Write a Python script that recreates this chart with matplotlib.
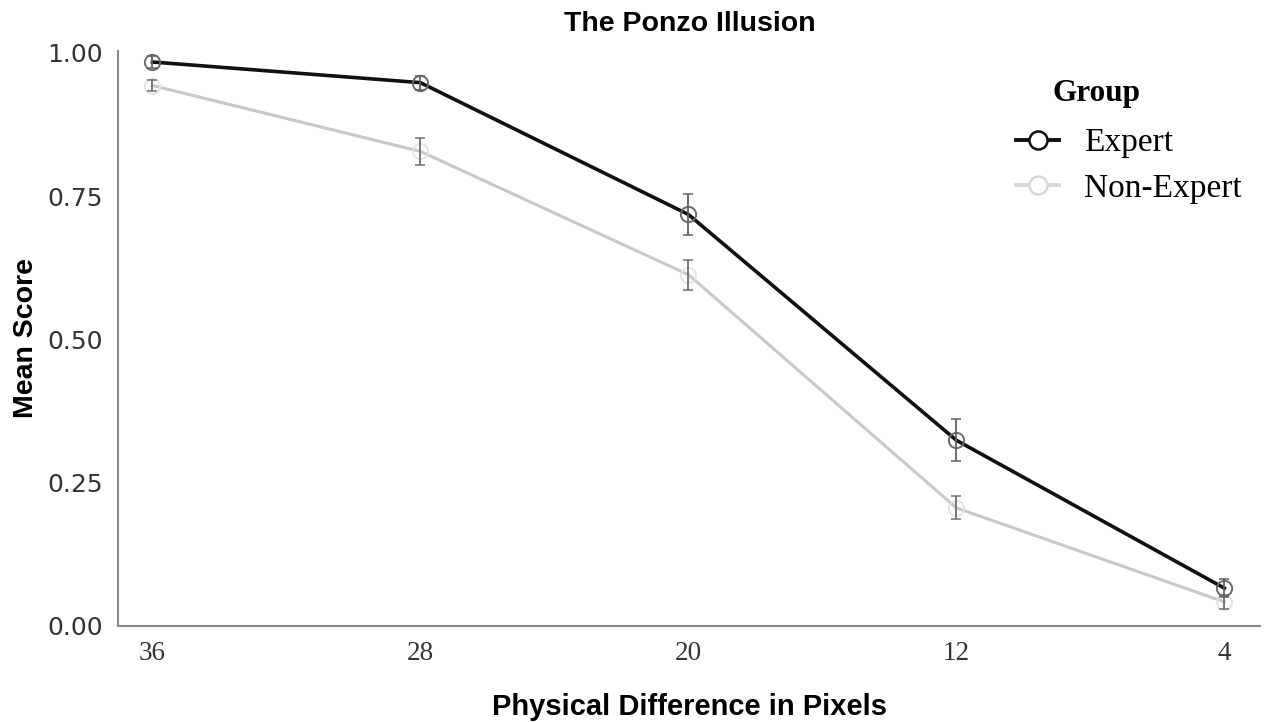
import numpy as np
import matplotlib.pyplot as plt
from matplotlib.lines import Line2D

pixels = ['36', '28', '20', '12', '4']
expert = [0.984, 0.948, 0.718, 0.324, 0.066]
expert_err = [0.010, 0.012, 0.035, 0.037, 0.016]
nonexpert = [0.943, 0.828, 0.613, 0.206, 0.042]
nonexpert_err = [0.010, 0.024, 0.026, 0.020, 0.012]

fig = plt.figure(figsize=(12.73, 7.22), dpi=100)
ax = fig.add_axes([0.093, 0.133, 0.897, 0.797])
x = np.arange(len(pixels))

ax.plot(x, nonexpert, color='#c8c8c8', lw=2.2, marker='o', ms=11,
        mfc='none', mec='#e2e2e2', mew=1.2, zorder=2)
ax.errorbar(x, nonexpert, yerr=nonexpert_err, fmt='none', ecolor='#707070',
            elinewidth=1.3, capsize=3.5, capthick=1.1, zorder=3)
ax.plot(x, expert, color='#111111', lw=2.6, marker='o', ms=11,
        mfc='none', mec='#6a6a6a', mew=1.4, zorder=4)
ax.errorbar(x, expert, yerr=expert_err, fmt='none', ecolor='#606060',
            elinewidth=1.3, capsize=3.5, capthick=1.1, zorder=5)

ax.set_xlim(-0.127, 4.134)
ax.set_ylim(0, 1.004)
ax.set_xticks(x)
ax.set_xticklabels(pixels, family='Liberation Serif', fontsize=19.5)
ax.set_yticks([0, 0.25, 0.5, 0.75, 1.0])
ax.set_yticklabels(['0.00', '0.25', '0.50', '0.75', '1.00'], fontsize=18)
ax.tick_params(length=0, labelcolor='#333333')
ax.tick_params(axis='x', pad=11)
ax.tick_params(axis='y', pad=11)

for s in ['top', 'right']:
    ax.spines[s].set_visible(False)
for s in ['left', 'bottom']:
    ax.spines[s].set_color('#8a8a8a')
    ax.spines[s].set_linewidth(1.5)

ax.set_title('The Ponzo Illusion', fontsize=20.5, fontweight='bold',
             family='Liberation Sans', pad=14)
ax.set_xlabel('Physical Difference in Pixels', fontsize=21, fontweight='bold',
              family='Liberation Sans', labelpad=19.5)
ax.set_ylabel('Mean Score', fontsize=20.5, fontweight='bold',
              family='Liberation Sans', labelpad=6)

handles = [
    Line2D([], [], color='#111111', lw=2.8, marker='o', ms=13,
           mfc='white', mec='#111111', mew=1.8),
    Line2D([], [], color='#d8d8d8', lw=2.8, marker='o', ms=13,
           mfc='white', mec='#d8d8d8', mew=1.8),
]
ax.legend(handles, ['Expert', 'Non-Expert'],
          loc='upper left', bbox_to_anchor=(1016 / 1273, 1 - 128 / 722),
          bbox_transform=fig.transFigure, frameon=False,
          prop={'family': 'Liberation Serif', 'size': 24},
          handlelength=1.3, handletextpad=0.75, labelspacing=0.45,
          borderpad=0, borderaxespad=0)
fig.text(1096 / 1273, 1 - 93 / 722, 'Group', ha='center', va='center',
         family='Liberation Serif', fontsize=22.5, fontweight='bold')

fig.savefig('out.png', dpi=100)
